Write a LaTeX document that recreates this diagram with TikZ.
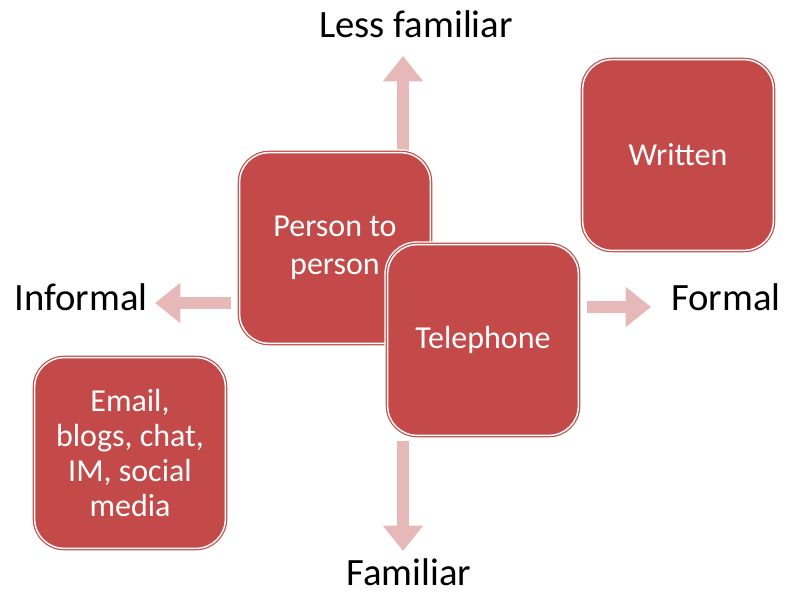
\documentclass[tikz,border=0pt]{standalone}
\usepackage{fontspec}
\setmainfont{Carlito}
\usetikzlibrary{arrows.meta}
\definecolor{boxred}{HTML}{C34A48}
\definecolor{arrowpink}{HTML}{E6B9B8}

\begin{document}
\begin{tikzpicture}[x=0.75pt,y=-0.75pt,>={Triangle[width=29pt,length=19pt]}]
    \tikzset{
        card/.style={rectangle,rounded corners=22pt,fill=boxred,draw=boxred,
            double=white,double distance=1.1pt,line width=0.9pt,
            preaction={draw=white,line width=5pt},
            minimum width=143pt,minimum height=143pt,inner sep=0pt,
            text=white,align=center,font=\fontsize{24}{27}\selectfont},
        axislabel/.style={inner sep=0pt,font=\fontsize{29}{34}\selectfont},
        blockarrow/.style={draw=arrowpink,line width=9pt,->}
    }
    \useasboundingbox (0,0) rectangle (791,595);

    \coordinate (up_start) at (403,152);
    \coordinate (up_tip) at (403,56);
    \coordinate (left_start) at (231,303);
    \coordinate (left_tip) at (155,303);
    \coordinate (right_start) at (587,307);
    \coordinate (right_tip) at (651,307);
    \coordinate (down_start) at (403,441);
    \coordinate (down_tip) at (403,551);

    \draw[blockarrow] (up_start) -- (up_tip);
    \draw[blockarrow] (left_start) -- (left_tip);
    \draw[blockarrow] (right_start) -- (right_tip);
    \draw[blockarrow] (down_start) -- (down_tip);

    \node (less_familiar) [axislabel] at (416,24) {Less familiar};
    \node (informal) [axislabel] at (81,297) {Informal};
    \node (formal) [axislabel] at (726,297) {Formal};
    \node (familiar) [axislabel] at (409,572) {Familiar};

    \node (person) [card,font=\fontsize{24}{28.5}\selectfont] at (335,248) {Person to\\person};
    \node (telephone) [card] at (483,340) {Telephone};
    \node (written) [card] at (678,155) {Written};
    \node (email) [card,font=\fontsize{24}{26.3}\selectfont] at (130,453) {Email,\\blogs, chat,\\IM, social\\media};
\end{tikzpicture}
\end{document}
